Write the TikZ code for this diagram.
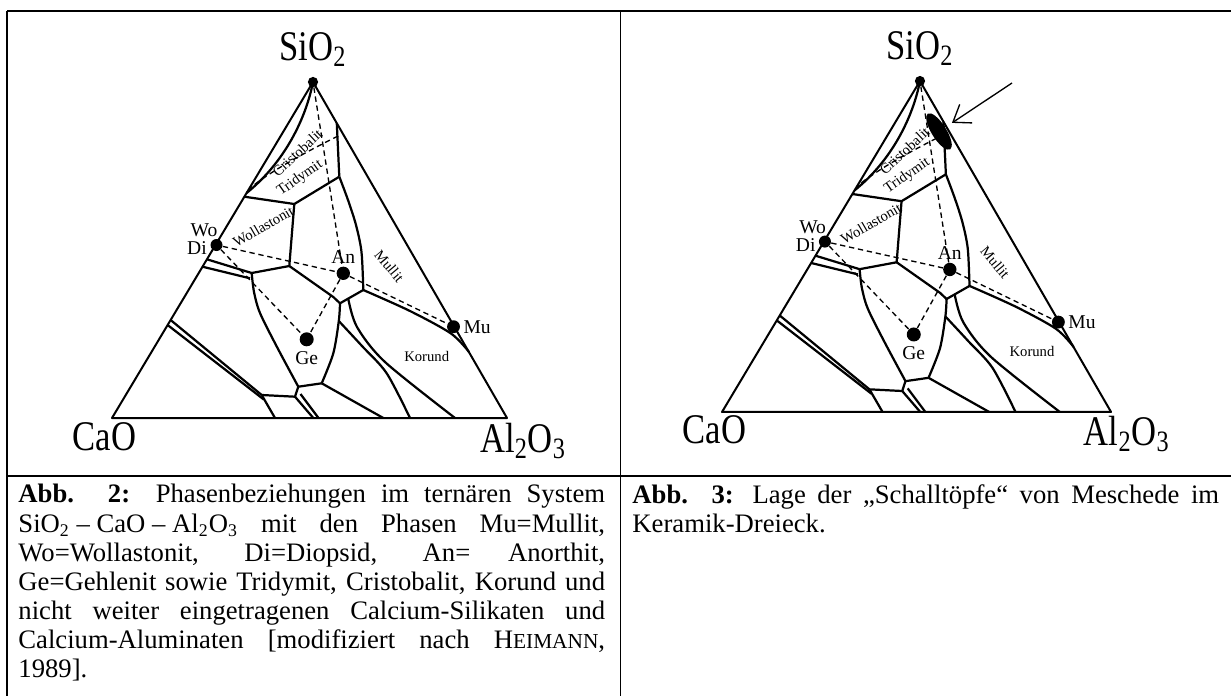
\documentclass[tikz,border=0pt]{standalone}
\usepackage{graphicx}
\usepackage{fontspec}
\setmainfont{Liberation Serif}
\usetikzlibrary{positioning,arrows.meta,shapes.geometric}
\hyphenpenalty=10000
\exhyphenpenalty=10000
\newcommand{\narrow}[1]{\scalebox{0.82}[1]{#1}}
\tikzset{
frame/.style={line width=0.8pt},
side/.style={line width=0.9pt,line join=round},
bound/.style={line width=1pt,line join=round},
tie/.style={line width=0.6pt,dash pattern=on 2.4pt off 1.7pt},
phasedot/.style={circle,fill=black,inner sep=0pt,minimum size=5.4pt},
oxide/.style={font=\fontsize{19}{22}\selectfont,inner sep=0pt,anchor=base},
ptlabel/.style={font=\fontsize{8.8}{10}\selectfont,inner sep=0pt},
phase/.style={font=\fontsize{6.6}{8}\selectfont,inner sep=0pt},
caption/.style={text width=264pt,align=justify,inner sep=0pt,anchor=north west,
font=\fontsize{12}{13.1}\selectfont},
blob/.style={ellipse,fill=black,inner sep=0pt,minimum width=19pt,minimum height=6.6pt},
pointer/.style={-{Straight Barb[length=7pt,width=10pt]},line width=0.6pt}
}
\newcommand{\phasediagram}[1]{%
% Ecken und Phasenpunkte
\node[phasedot,minimum size=4.6pt] (#1si) at (313,82) {};
\coordinate (#1ca) at (112,418);
\coordinate (#1al) at (507,418);
\node[phasedot] (#1wo) at (216.5,245) {};
\node[phasedot,minimum size=6pt] (#1an) at (343.3,273.3) {};
\node[phasedot,minimum size=6.3pt] (#1ge) at (306.7,339.3) {};
\node[phasedot,minimum size=5.8pt] (#1mu) at (453.5,326.7) {};
% Knickpunkte der Feldgrenzen
\coordinate (#1j1) at (339.3,176.7);
\coordinate (#1j2) at (294.3,204);
\coordinate (#1j3) at (289.3,266);
\coordinate (#1j4) at (251.7,273);
\coordinate (#1j5) at (333.3,297);
\coordinate (#1j6) at (363.3,290);
\coordinate (#1j7) at (340,303.3);
\coordinate (#1j9) at (338.8,321);
\coordinate (#1j10) at (321.7,383.3);
\coordinate (#1j11) at (298.3,386.7);
\coordinate (#1j12) at (295,396.7);
\coordinate (#1j13) at (261.7,395);
% Dreieck
\draw[side] (#1si.center) -- (#1ca) -- (#1al) -- cycle;
% Feldgrenzen
\draw[bound] (#1si.center) .. controls (306,118) and (285,162) .. (246.6,193);
\draw[bound] (336.8,123.3) -- (#1j1);
\draw[bound] (244.4,196.7) -- (#1j2) -- (#1j1);
\draw[bound] (#1j2) -- (#1j3) -- (#1j4);
\draw[bound] (#1j3) -- (#1j5) -- (#1j7) -- (#1j6);
\draw[bound] plot[smooth] coordinates {(#1j1) (348,200) (356,225) (361.5,252) (#1j6)};
\draw[bound] (206.9,259.3) -- (#1j4);
\draw[bound] (202.5,266.7) -- (250,278.3);
\draw[bound] plot[smooth] coordinates {(#1j4) (254,292) (260,313) (277,347) (#1j11)};
\draw[bound] plot[smooth] coordinates {(#1j7) (#1j9) (333.3,353.3) (#1j10)};
\draw[bound] (#1j10) -- (#1j11) -- (#1j12) -- (#1j13);
\draw[bound] (#1j12) -- (313.3,418);
\draw[bound] (300.5,394) -- (318.5,418);
\draw[bound] (#1j13) -- (275,418);
\draw[bound] (170.6,320) -- (#1j13);
\draw[bound] (167.6,325) -- (263.8,399.5);
\draw[bound] (#1j10) -- (383.3,418);
\draw[bound] plot[smooth] coordinates {(#1j9) (362,346) (386.7,373.3) (410,418)};
\draw[bound] plot[smooth] coordinates {(348.3,299) (357,327) (385,362) (455,418)};
\draw[bound] plot[smooth] coordinates {(#1j6) (410,311) (451,333.5) (469,352)};
% Konoden
\draw[tie] (338,136) .. controls (300,155) and (270,172) .. (250,188);
\draw[tie] (#1si) -- (#1an);
\draw[tie] (#1wo) -- (#1an);
\draw[tie] (#1wo) -- (#1ge);
\draw[tie] (#1an) -- (#1ge);
\draw[tie] (#1an) -- (#1mu);
% Beschriftung
\node[oxide] (#1silbl) at (313,60) {\narrow{SiO\textsubscript{2}}};
\node[oxide] (#1calbl) at (104.5,450) {\narrow{CaO}};
\node[oxide] (#1allbl) at (523,452) {\narrow{Al\textsubscript{2}O\textsubscript{3}}};
\node[ptlabel] (#1wolbl) at (204,230) {Wo};
\node[ptlabel] (#1dilbl) at (197,248) {Di};
\node[ptlabel,above=1pt of #1an] (#1anlbl) {An};
\node[ptlabel,below=2pt of #1ge] (#1gelbl) {Ge};
\node[ptlabel,right=1.2pt of #1mu] (#1mulbl) {Mu};
\node[phase,rotate=43] (#1cri) at (297.3,152.7) {Cristobalit};
\node[phase,rotate=35] (#1tri) at (300,178.3) {Tridymit};
\node[phase,rotate=30] (#1wol) at (263.3,226.7) {Wollastonit};
\node[phase,rotate=-50] (#1mul) at (389.3,266) {Mullit};
\node[phase] (#1kor) at (426.7,356.7) {Korund};
}

\begin{document}
\begin{tikzpicture}[x={(0.45pt,0)},y={(0,-0.45pt)}]
\useasboundingbox (0,0) rectangle (1231,696);
% Tabellenrahmen
\draw[frame] (7,11) -- (1231,11);
\draw[frame] (7,476) -- (1231,476);
\draw[frame] (7,11) -- (7,696);
\draw[frame] (620.5,11) -- (620.5,696);
% Abb. 2
\phasediagram{l}
% Abb. 3
\begin{scope}[shift={(722,412)},scale=0.985,shift={(-112,-418)}]
\phasediagram{r}
\end{scope}
\node[blob,rotate=-58] (schall) at (939,131.5) {};
\coordinate (pfeil) at (1012,83);
\draw[pointer,shorten >=3.5pt] (pfeil) -- (schall);
% Bildunterschriften
\node[caption] (capl) at (18,484) {\textbf{Abb. 2:} Phasenbeziehungen im ternären System\linebreak
\hbox{SiO\textsubscript{2} – CaO – Al\textsubscript{2}O\textsubscript{3}} mit den Phasen Mu=Mullit,\linebreak
Wo=Wollastonit, Di=Diopsid, An= Anorthit,\linebreak
Ge=Gehlenit sowie Tridymit, Cristobalit, Korund und\linebreak
nicht weiter eingetragenen Calcium-Silikaten und\linebreak
Calcium-Aluminaten [modifiziert nach H{\fontsize{9.6}{11}\selectfont EIMANN},\linebreak
1989].};
\node[caption] (capr) at (632,484) {\textbf{Abb. 3:} Lage der „Schalltöpfe“ von Meschede im\linebreak
Keramik-Dreieck.};
\end{tikzpicture}
\end{document}
